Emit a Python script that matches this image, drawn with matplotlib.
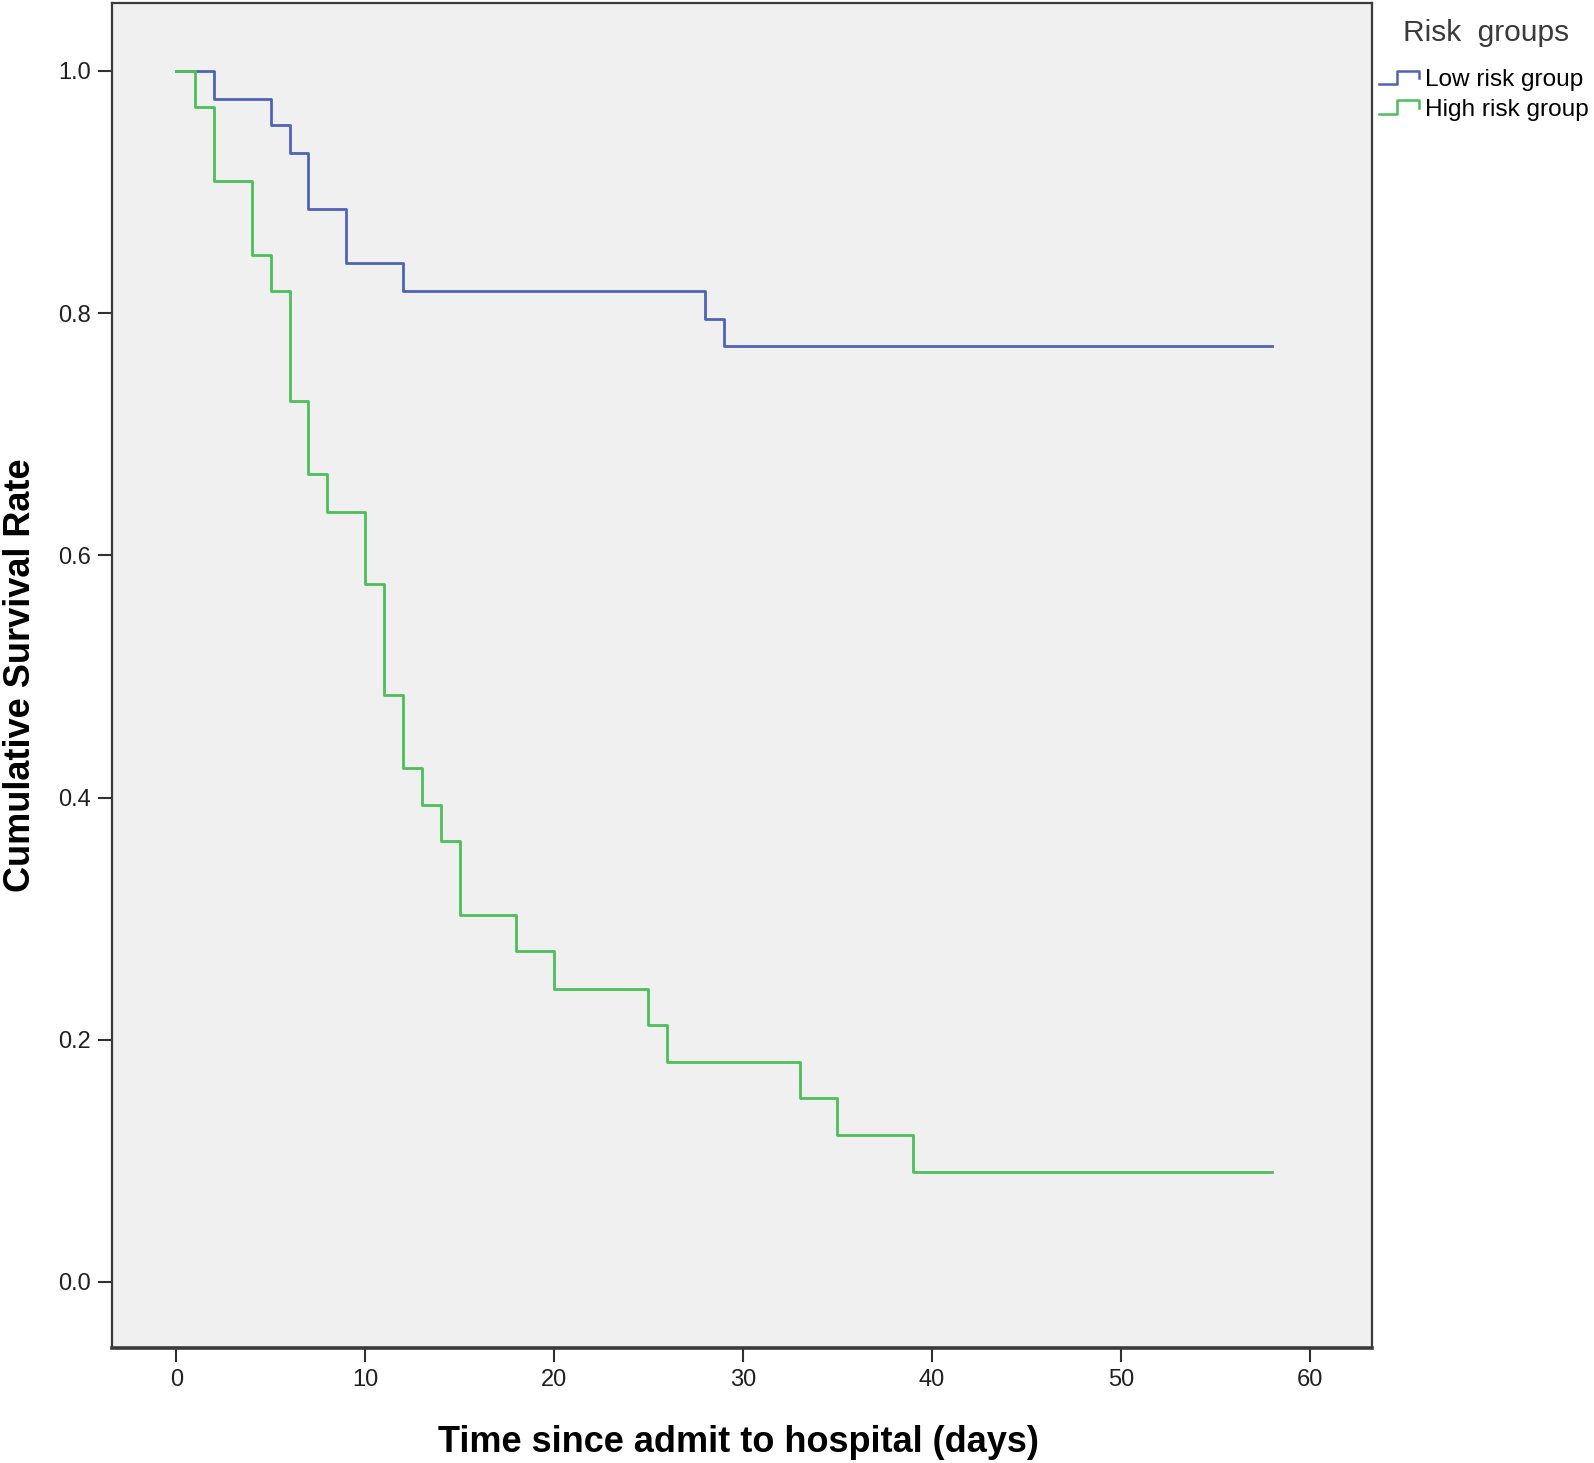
import matplotlib.pyplot as plt
from matplotlib.legend_handler import HandlerBase
from matplotlib.lines import Line2D

# Kaplan-Meier step data
low_time = [0, 2, 5, 6, 7, 9, 12, 28, 29, 58]
low_surv = [1.0, 0.977, 0.955, 0.932, 0.886, 0.841, 0.818, 0.795, 0.773, 0.773]

high_time = [0, 1, 2, 4, 5, 6, 7, 8, 10, 11, 12, 13, 14, 15, 18, 20, 25, 26, 33, 35, 39, 58]
high_surv = [1.0, 0.970, 0.909, 0.848, 0.818, 0.727, 0.667, 0.636, 0.576, 0.485, 0.424,
             0.394, 0.364, 0.303, 0.273, 0.242, 0.212, 0.182, 0.152, 0.121, 0.091, 0.091]

group_names = ['Low risk group', 'High risk group']
group_colors = ['#4f62b8', '#4cbf5a']
x_ticks = [0, 10, 20, 30, 40, 50, 60]
y_ticks = [0.0, 0.2, 0.4, 0.6, 0.8, 1.0]

plt.rcParams['font.family'] = ['Liberation Sans', 'DejaVu Sans']


class StepHandler(HandlerBase):
    # small step icon like in the SPSS legend
    def create_artists(self, legend, orig_handle, xdescent, ydescent,
                       width, height, fontsize, trans):
        x0 = -xdescent
        y0 = -ydescent
        xs = [x0, x0 + 0.45 * width, x0 + 0.45 * width, x0 + width, x0 + width]
        ys = [y0 + 0.1 * height, y0 + 0.1 * height, y0 + 0.9 * height,
              y0 + 0.9 * height, y0 + 0.45 * height]
        ln = Line2D(xs, ys, color=orig_handle.get_color(), lw=1.8, transform=trans)
        return [ln]


fig = plt.figure(figsize=(15.94, 14.63), dpi=100)
ax = fig.add_axes([112 / 1594, 1 - 1348 / 1463, 1260 / 1594, 1345 / 1463])
ax.set_facecolor('#f0f0f0')

l1, = ax.step(low_time, low_surv, where='post', color=group_colors[0], lw=2.0)
l2, = ax.step(high_time, high_surv, where='post', color=group_colors[1], lw=2.0)

ax.set_xlim(-3.4, 63.3)
ax.set_ylim(-0.0545, 1.056)
ax.set_xticks(x_ticks)
ax.set_yticks(y_ticks)
ax.set_yticklabels([f'{v:.1f}' for v in y_ticks])
ax.tick_params(direction='out', length=10, width=1.5, color='#303030',
               labelsize=17, labelcolor='#202020', pad=5)

for sp in ax.spines.values():
    sp.set_color('#3a3a3a')
    sp.set_linewidth(1.6)
ax.spines['bottom'].set_linewidth(2.6)

ax.set_xlabel('Time since admit to hospital (days)', fontsize=26, fontweight='bold')
ax.set_ylabel('Cumulative Survival Rate', fontsize=26, fontweight='bold')
ax.xaxis.set_label_coords(0.497, -0.057)
ax.yaxis.set_label_coords(-0.0585, 0.5)

# legend title drawn separately so its gap to the entries can be set
fig.text(1403 / 1594, 1 - 33 / 1463, 'Risk  groups', fontsize=21.5, color='#3a3a3a',
         ha='left', va='center')
leg = fig.legend([l1, l2], group_names, handler_map={l1: StepHandler(), l2: StepHandler()},
                 loc='upper left', bbox_to_anchor=(1379 / 1594, 1 - 69 / 1463),
                 frameon=False, fontsize=17.6,
                 handlelength=1.65, handletextpad=0.25, labelspacing=0.3,
                 borderpad=0, borderaxespad=0)

plt.savefig('out.png', dpi=100)
